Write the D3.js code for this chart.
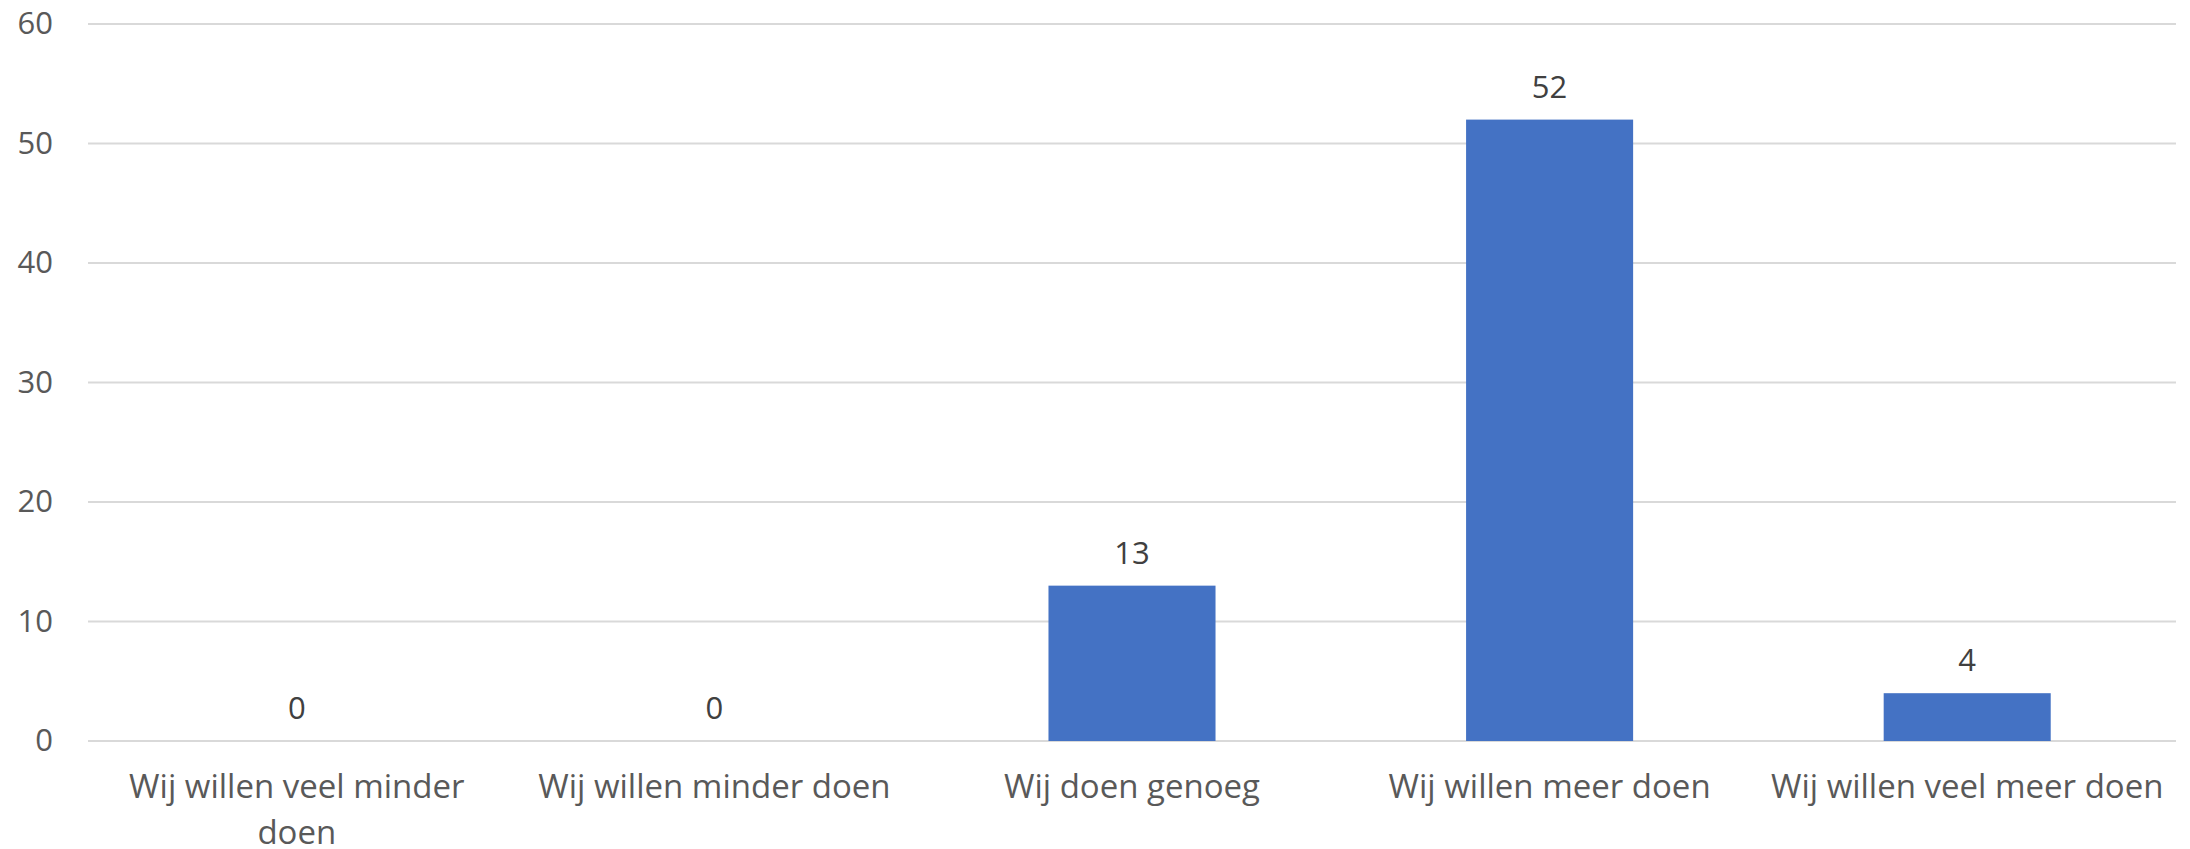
<!DOCTYPE html>
<html>
<head>
<meta charset="utf-8">
<script src="https://cdn.jsdelivr.net/npm/d3@7"></script>
<style>
  body { margin: 0; background: white; }
  svg { display: block; }
</style>
</head>
<body>
<div class="svg-wrap"></div>
<script>
const categories = [
  "Wij willen veel minder doen",
  "Wij willen minder doen",
  "Wij doen genoeg",
  "Wij willen meer doen",
  "Wij willen veel meer doen"
];
const values = [0, 0, 13, 52, 4];
const yTicks = [0, 10, 20, 30, 40, 50, 60];

const width = 2190;
const height = 849;
const margin = { left: 88, right: 14, top: 24, bottom: 108 };
const font = "'Open Sans', sans-serif";

let svg = d3.select(".svg-wrap")
  .append("svg")
  .attr("width", width)
  .attr("height", height)
  .style("background-color", "white");

let x = d3.scaleBand()
  .domain(categories)
  .range([margin.left, width - margin.right]);

let y = d3.scaleLinear()
  .domain([0, 60])
  .range([height - margin.bottom, margin.top]);

// gridlines
svg.append("g")
  .selectAll("line")
  .data(yTicks)
  .enter()
  .append("line")
  .attr("x1", margin.left)
  .attr("x2", width - margin.right)
  .attr("y1", d => y(d))
  .attr("y2", d => y(d))
  .attr("stroke", "#d9d9d9")
  .attr("stroke-width", 2);

// y axis labels
let yAxis = d3.axisLeft(y).tickValues(yTicks).tickSize(0).tickPadding(35);
svg.append("g")
  .attr("transform", `translate(${margin.left},0)`)
  .call(yAxis)
  .call(g => g.select(".domain").remove())
  .selectAll("text")
  .style("font-family", font)
  .style("font-size", "31px")
  .attr("fill", "#595959");

// bars
let barW = x.bandwidth() * 0.4;
svg.append("g")
  .selectAll("rect")
  .data(values)
  .enter()
  .append("rect")
  .attr("x", (d, i) => x(categories[i]) + (x.bandwidth() - barW) / 2)
  .attr("y", d => y(d))
  .attr("width", barW)
  .attr("height", d => y(0) - y(d))
  .attr("fill", "#4472c4");

// data labels
svg.append("g")
  .selectAll("text")
  .data(values)
  .enter()
  .append("text")
  .attr("x", (d, i) => x(categories[i]) + x.bandwidth() / 2)
  .attr("y", d => y(d) - 22)
  .attr("text-anchor", "middle")
  .style("font-family", font)
  .style("font-size", "31px")
  .attr("fill", "#404040")
  .text(d => d);

// category labels, wrapped
let xAxis = d3.axisBottom(x).tickSize(0).tickPadding(0);
svg.append("g")
  .attr("transform", `translate(0,${y(0)})`)
  .call(xAxis)
  .call(g => g.select(".domain").remove())
  .selectAll("text")
  .style("font-family", font)
  .style("font-size", "33px")
  .attr("fill", "#595959")
  .attr("dy", null)
  .attr("y", 57)
  .call(wrap, x.bandwidth());

function wrap(texts, maxW) {
  texts.each(function () {
    let text = d3.select(this);
    let words = text.text().split(/\s+/);
    let line = [];
    let tspan = text.text(null).append("tspan").attr("x", 0).attr("dy", 0);
    words.forEach(w => {
      line.push(w);
      tspan.text(line.join(" "));
      if (tspan.node().getComputedTextLength() > maxW && line.length > 1) {
        line.pop();
        tspan.text(line.join(" "));
        line = [w];
        tspan = text.append("tspan").attr("x", 0).attr("dy", "1.38em").text(w);
      }
    });
  });
}
</script>
</body>
</html>
